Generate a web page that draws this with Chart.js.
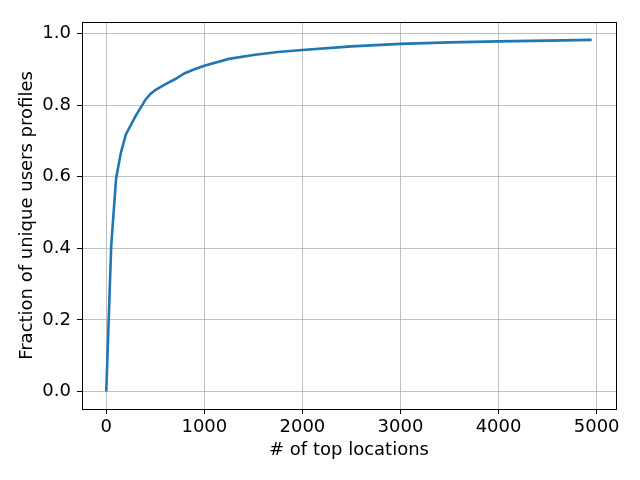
<!DOCTYPE html>
<html>
<head>
<meta charset="utf-8">
<script src="https://cdn.jsdelivr.net/npm/chart.js@4/dist/chart.umd.min.js"></script>
<style>
html,body{margin:0;padding:0;background:#fff;}
canvas{display:block;}
</style>
</head>
<body>
<canvas id="c" width="640" height="480"></canvas>
<script>
const topLocations = [0, 50, 100, 150, 200, 300, 400, 450, 500, 600, 700, 800, 900, 1000, 1250, 1500, 1750, 2000, 2500, 3000, 3500, 4000, 4500, 4950];
const fractionUnique = [0, 0.405, 0.595, 0.668, 0.718, 0.770, 0.815, 0.831, 0.842, 0.858, 0.872, 0.889, 0.900, 0.910, 0.929, 0.940, 0.948, 0.954, 0.964, 0.971, 0.975, 0.978, 0.980, 0.982];
const xTicks = [0, 1000, 2000, 3000, 4000, 5000];
const yTicks = [0.0, 0.2, 0.4, 0.6, 0.8, 1.0];
const xLabel = '# of top locations';
const yLabel = 'Fraction of unique users profiles';

const FONT = 'DejaVu Sans';

const framePlugin = {
  id: 'frame',
  afterDraw(chart) {
    const a = chart.chartArea, ctx = chart.ctx;
    ctx.save();
    ctx.strokeStyle = '#000';
    ctx.lineWidth = 1;
    ctx.strokeRect(Math.round(a.left) + 0.5, Math.round(a.top) + 0.5, Math.round(a.right - a.left), Math.round(a.bottom - a.top));
    ctx.restore();
  }
};

new Chart(document.getElementById('c'), {
  type: 'line',
  data: {
    datasets: [{
      data: topLocations.map((x, i) => ({x: x, y: fractionUnique[i]})),
      borderColor: '#1f77b4',
      borderWidth: 2.6,
      pointRadius: 0,
      tension: 0,
      fill: false
    }]
  },
  options: {
    responsive: false,
    animation: false,
    events: [],
    layout: {padding: {left: 17, top: 22, right: 24, bottom: 19}},
    plugins: {legend: {display: false}, tooltip: {enabled: false}},
    scales: {
      x: {
        type: 'linear',
        min: -247.5,
        max: 5197.5,
        afterBuildTicks(s) { s.ticks = xTicks.map(v => ({value: v})); },
        afterFit(s) { s.height = 52; },
        grid: {color: '#b0b0b0', lineWidth: 0.8, tickLength: 5, tickColor: '#000', tickWidth: 1},
        border: {display: true, color: '#000', width: 1},
        ticks: {color: '#000', font: {family: FONT, size: 18}, padding: 3, maxRotation: 0, callback: v => String(v)},
        title: {display: true, text: xLabel, color: '#000', font: {family: FONT, size: 18}, padding: {top: 0, bottom: 0}}
      },
      y: {
        type: 'linear',
        min: -0.049,
        max: 1.032,
        afterBuildTicks(s) { s.ticks = yTicks.map(v => ({value: v})); },
        afterFit(s) { s.width = 65; },
        grid: {color: '#b0b0b0', lineWidth: 0.8, tickLength: 5, tickColor: '#000', tickWidth: 1},
        border: {display: true, color: '#000', width: 1},
        ticks: {color: '#000', font: {family: FONT, size: 18}, padding: 6, callback: v => Number(v).toFixed(1)},
        title: {display: true, text: yLabel, color: '#000', font: {family: FONT, size: 18}, padding: {top: 0, bottom: 0}}
      }
    }
  },
  plugins: [framePlugin]
});
</script>
</body>
</html>
